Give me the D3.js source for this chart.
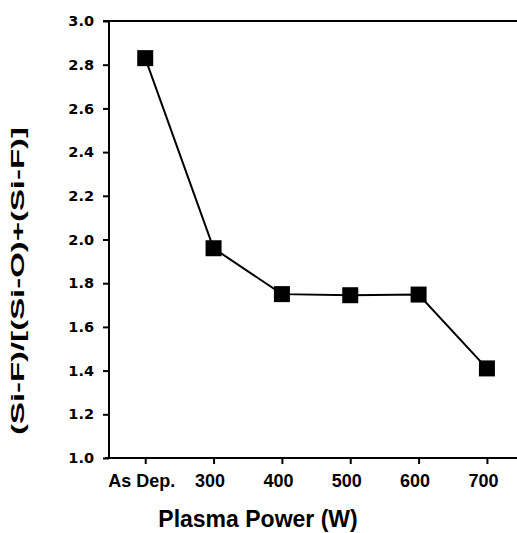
<!DOCTYPE html>
<html>
<head>
<meta charset="utf-8">
<script src="https://cdn.jsdelivr.net/npm/d3@7"></script>
<style>
  body { margin: 0; background: #fff; }
  svg { display: block; }
</style>
</head>
<body>
<svg id="chart" width="517" height="533"></svg>
<script>
// Data
const categories = ["As Dep.", "300", "400", "500", "600", "700"];
const ratioValues = [2.83, 1.96, 1.75, 1.745, 1.748, 1.41];
const yTicks = [1.0, 1.2, 1.4, 1.6, 1.8, 2.0, 2.2, 2.4, 2.6, 2.8, 3.0];

const svg = d3.select("#chart");
const plot = { left: 109, right: 517, top: 21, bottom: 458 };

// X: categories by index, with the frame running past the last point
const x = d3.scaleLinear()
    .domain([-0.53, 5.44])
    .range([plot.left, plot.right]);

const y = d3.scaleLinear()
    .domain([1.0, 3.0])
    .range([plot.bottom, plot.top]);

// Top frame line
svg.append("line")
    .attr("x1", plot.left - 6).attr("x2", plot.right)
    .attr("y1", plot.top).attr("y2", plot.top)
    .attr("stroke", "#000").attr("stroke-width", 2);

// Y axis
svg.append("g")
    .attr("transform", `translate(${plot.left},0)`)
    .call(d3.axisLeft(y).tickValues(yTicks).tickFormat(d3.format(".1f")).tickSize(6).tickPadding(9))
    .call(g => g.select(".domain").attr("stroke-width", 2).attr("d", `M0,${plot.top}V${plot.bottom}`))
    .call(g => g.selectAll(".tick line").attr("stroke-width", 2))
    .call(g => g.selectAll("text")
        .attr("font-family", "DejaVu Sans")
        .attr("font-weight", "bold")
        .attr("font-size", 14.5)
        .attr("fill", "#000"));

// X axis
svg.append("g")
    .attr("transform", `translate(0,${plot.bottom})`)
    .call(d3.axisBottom(x).tickValues(d3.range(categories.length)).tickFormat(i => categories[i]).tickSize(6).tickPadding(10))
    .call(g => g.select(".domain").attr("stroke-width", 2).attr("d", `M${plot.left - 4},0H${plot.right}`))
    .call(g => g.selectAll(".tick line").attr("stroke-width", 2))
    .call(g => g.selectAll("text")
        .attr("font-family", "Liberation Sans, Arial, sans-serif")
        .attr("font-weight", "bold")
        .attr("font-size", 18)
        .attr("dx", -4)
        .attr("fill", "#000"));

// Data line
const data = ratioValues.map((v, i) => ({ i, v }));

svg.append("path")
    .datum(data)
    .attr("fill", "none")
    .attr("stroke", "#000")
    .attr("stroke-width", 2)
    .attr("d", d3.line().x(d => x(d.i)).y(d => y(d.v)));

const s = 16;
svg.selectAll(".marker")
    .data(data)
    .enter()
    .append("rect")
    .attr("class", "marker")
    .attr("x", d => x(d.i) - s / 2)
    .attr("y", d => y(d.v) - s / 2)
    .attr("width", s)
    .attr("height", s)
    .attr("fill", "#000");

// X axis title
svg.append("text")
    .attr("x", 258)
    .attr("y", 527)
    .attr("text-anchor", "middle")
    .attr("font-family", "Liberation Sans, Arial, sans-serif")
    .attr("font-weight", "bold")
    .attr("font-size", 23)
    .text("Plasma Power (W)");

// Y axis title (stretched along its length like the original)
svg.append("text")
    .attr("transform", "translate(24,281) rotate(-90)")
    .attr("text-anchor", "middle")
    .attr("font-family", "Liberation Sans, Arial, sans-serif")
    .attr("font-weight", "bold")
    .attr("font-size", 19)
    .attr("textLength", 308)
    .attr("lengthAdjust", "spacingAndGlyphs")
    .text("(Si-F)/[(Si-O)+(Si-F)]");
</script>
</body>
</html>
